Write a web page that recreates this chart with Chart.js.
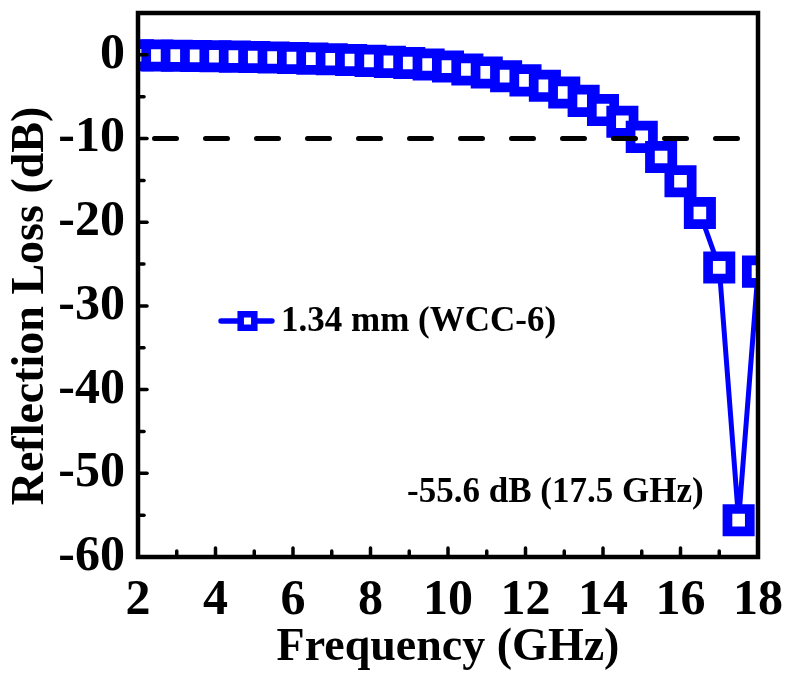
<!DOCTYPE html>
<html>
<head>
<meta charset="utf-8">
<script src="https://cdn.jsdelivr.net/npm/chart.js@4.4.0/dist/chart.umd.min.js"></script>
<style>
  html, body { margin: 0; padding: 0; background: #fff; }
  #wrap { width: 785px; height: 674px; }
</style>
</head>
<body>
<div id="wrap"><canvas id="myChart" width="785" height="674"></canvas></div>
<script>
// measured reflection loss of the 1.34 mm absorber layer
var freq = [2, 2.5, 3, 3.5, 4, 4.5, 5, 5.5, 6, 6.5, 7, 7.5, 8, 8.5, 9, 9.5, 10,
            10.5, 11, 11.5, 12, 12.5, 13, 13.5, 14, 14.5, 15, 15.5, 16, 16.5, 17, 17.5, 18];
var reflectionLoss = [-0.05, -0.08, -0.1, -0.13, -0.17, -0.21, -0.26, -0.32, -0.38, -0.45,
                      -0.53, -0.62, -0.72, -0.84, -0.97, -1.15, -1.4, -1.75, -2.1, -2.55,
                      -3.05, -3.7, -4.5, -5.5, -6.6, -8.0, -9.8, -12.2, -15.1, -18.9,
                      -25.4, -55.6, -25.9];
var seriesLabel = '1.34 mm (WCC-6)';

// -10 dB reference line (90 % absorption)
var threshold = -10;

var xTicks = [2, 4, 6, 8, 10, 12, 14, 16, 18];
var xMinor = [3, 5, 7, 9, 11, 13, 15, 17];
var yTicks = [0, -10, -20, -30, -40, -50, -60];
var yMinor = [-5, -15, -25, -35, -45, -55];

var xTitle = 'Frequency (GHz)';
var yTitle = 'Reflection Loss (dB)';

var serif = "'Liberation Serif', 'Times New Roman', serif";
var blue = '#0000ff';

// frame, inward ticks, legend, minimum label and y title
var decorations = {
    id: 'decorations',
    afterDatasetsDraw: function (chart) {
        var ctx = chart.ctx;
        var a = chart.chartArea;
        var xs = chart.scales.x, ys = chart.scales.y;

        ctx.save();
        ctx.strokeStyle = '#000';
        ctx.lineCap = 'round';
        ctx.lineWidth = 3.5;
        function seg(x1, y1, x2, y2) {
            ctx.beginPath(); ctx.moveTo(x1, y1); ctx.lineTo(x2, y2); ctx.stroke();
        }
        xTicks.forEach(function (v) { var x = xs.getPixelForValue(v); seg(x, a.bottom, x, a.bottom - 9); });
        xMinor.forEach(function (v) { var x = xs.getPixelForValue(v); seg(x, a.bottom, x, a.bottom - 6); });
        yTicks.forEach(function (v) { var y = ys.getPixelForValue(v); seg(a.left, y, a.left + 9, y); });
        yMinor.forEach(function (v) { var y = ys.getPixelForValue(v); seg(a.left, y, a.left + 6, y); });

        ctx.lineCap = 'butt';
        ctx.lineJoin = 'miter';
        ctx.lineWidth = 4.5;
        ctx.strokeRect(a.left, a.top, a.right - a.left, a.bottom - a.top);

        // legend entry
        var ds = chart.data.datasets[1];
        var ly = 321, lx = 247.5;
        ctx.strokeStyle = ds.borderColor;
        ctx.lineWidth = 5.4;
        ctx.lineCap = 'round';
        seg(221, ly, 272, ly);
        ctx.fillStyle = '#fff';
        ctx.lineWidth = 6.5;
        ctx.beginPath();
        ctx.rect(lx - 6.8, ly - 6.8, 13.6, 13.6);
        ctx.fill();
        ctx.stroke();

        ctx.fillStyle = '#000';
        ctx.font = 'bold 35px ' + serif;
        ctx.textAlign = 'left';
        ctx.textBaseline = 'middle';
        ctx.fillText(ds.label, 281, ly + 1);

        // strongest absorption peak
        var iMin = 0;
        reflectionLoss.forEach(function (v, i) { if (v < reflectionLoss[iMin]) iMin = i; });
        var px = xs.getPixelForValue(freq[iMin]);
        var py = ys.getPixelForValue(reflectionLoss[iMin]);
        ctx.textAlign = 'right';
        ctx.fillText(reflectionLoss[iMin].toFixed(1) + ' dB (' + freq[iMin] + ' GHz)', px - 35, py - 27);

        // y axis title
        ctx.font = 'bold 46px ' + serif;
        ctx.textAlign = 'center';
        ctx.translate(31, 306);
        ctx.rotate(-Math.PI / 2);
        ctx.fillText(yTitle, 0, 0);
        ctx.restore();
    }
};

function noPadding(s) {
    s.paddingTop = 0; s.paddingBottom = 0; s.paddingLeft = 0; s.paddingRight = 0;
}

var ctx = document.getElementById('myChart').getContext('2d');
var chart = new Chart(ctx, {
    type: 'line',
    data: {
        datasets: [{
            // dashed -10 dB guide, drawn above the curve
            data: [{ x: xTicks[0], y: threshold }, { x: xTicks[xTicks.length - 1], y: threshold }],
            borderColor: '#000',
            borderWidth: 5,
            borderDash: [22, 29],
            borderDashOffset: 34.5,
            borderCapStyle: 'round',
            pointRadius: 0,
            order: 0
        }, {
            label: seriesLabel,
            data: freq.map(function (f, i) { return { x: f, y: reflectionLoss[i] }; }),
            borderColor: blue,
            borderWidth: 5,
            tension: 0,
            pointStyle: 'rect',
            pointRadius: 15.8,
            pointBorderWidth: 9.7,
            pointBackgroundColor: '#fff',
            pointBorderColor: blue,
            clip: 0,
            order: 1
        }]
    },
    options: {
        responsive: false,
        devicePixelRatio: 1,
        animation: false,
        events: [],
        layout: { autoPadding: false, padding: { top: 13, right: 27, left: 0, bottom: 0 } },
        plugins: { legend: { display: false }, tooltip: { enabled: false } },
        scales: {
            x: {
                type: 'linear',
                min: 2,
                max: 18,
                grid: { display: false, drawTicks: false },
                border: { display: false },
                afterBuildTicks: function (s) { s.ticks = xTicks.map(function (v) { return { value: v }; }); },
                afterFit: function (s) { s.height = 117; noPadding(s); },
                ticks: {
                    color: '#000',
                    padding: 14,
                    maxRotation: 0,
                    autoSkip: false,
                    font: { family: serif, size: 50, weight: 'bold' }
                },
                title: {
                    display: true,
                    text: xTitle,
                    color: '#000',
                    padding: { top: 0, bottom: 3 },
                    font: { family: serif, size: 46, weight: 'bold', lineHeight: 1 }
                }
            },
            y: {
                type: 'linear',
                min: -60,
                max: 5,
                grid: { display: false, drawTicks: false },
                border: { display: false },
                afterBuildTicks: function (s) { s.ticks = yTicks.map(function (v) { return { value: v }; }); },
                afterFit: function (s) { s.width = 138; noPadding(s); },
                ticks: {
                    color: '#000',
                    padding: 13,
                    autoSkip: false,
                    font: { family: serif, size: 50, weight: 'bold' }
                }
            }
        }
    },
    plugins: [decorations]
});
</script>
</body>
</html>
